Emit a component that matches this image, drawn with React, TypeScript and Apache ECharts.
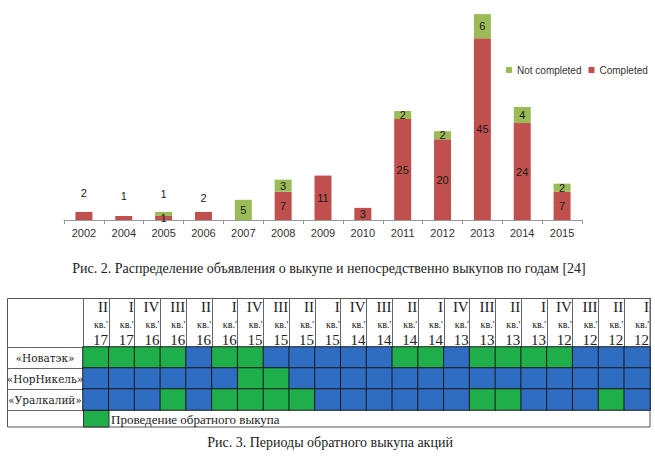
import React, { useEffect, useRef } from "react";
import * as echarts from "echarts";

const years = ["2002", "2004", "2005", "2006", "2007", "2008", "2009", "2010", "2011", "2012", "2013", "2014", "2015"];
const completed = [2, 1, 1, 2, 0, 7, 11, 3, 25, 20, 45, 24, 7];
const notCompleted = [0, 0, 1, 0, 5, 3, 0, 0, 2, 2, 6, 4, 2];

const quarters = ["II", "I", "IV", "III", "II", "I", "IV", "III", "II", "I", "IV", "III", "II", "I", "IV", "III", "II", "I", "IV", "III", "II", "I"];
const quarterYears = ["17", "17", "16", "16", "16", "16", "15", "15", "15", "15", "14", "14", "14", "14", "13", "13", "13", "13", "12", "12", "12", "12"];
const companies = ["«Новатэк»", "«НорНикель»", "«Уралкалий»"];
const novatek = [1, 1, 1, 1, 0, 1, 1, 0, 0, 0, 0, 0, 1, 1, 0, 1, 1, 1, 1, 0, 0, 0];
const nornickel = [0, 0, 0, 0, 0, 0, 1, 1, 0, 0, 0, 0, 0, 0, 0, 0, 0, 0, 0, 0, 0, 0];
const uralkali = [0, 0, 0, 1, 0, 1, 1, 1, 1, 0, 0, 0, 0, 0, 0, 1, 1, 0, 0, 0, 1, 0];

const caption1 = "Рис. 2. Распределение объявления о выкупе и непосредственно выкупов по годам [24]";
const caption2 = "Рис. 3. Периоды обратного выкупа акций";
const legendText = "Проведение обратного выкупа";

// label lifts (style only)
const completedLift: Record<string, number> = { "2002": -8, "2004": -9, "2006": -3 };
const notCompletedLift: Record<string, number> = { "2005": -7 };

const RED = "#C0504D";
const LGREEN = "#9BBB59";
const TGREEN = "#1FAF4A";
const TBLUE = "#2F6DC2";
const SERIF = "Liberation Serif";
const SANS = "Liberation Sans";

export default function App() {
  const ref = useRef<HTMLDivElement>(null);
  useEffect(() => {
    if (!ref.current) return;
    const chart = echarts.init(ref.current, null, { renderer: "svg" });
    const qCats = quarters.map((q, i) => `${q}|${quarterYears[i]}`);
    const rows = [novatek, nornickel, uralkali];
    const heat: number[][] = [];
    rows.forEach((r, ri) => r.forEach((v, ci) => heat.push([ci, ri, v])));

    const lbl = (p: any) => (p.value ? String(p.value) : "");
    const mk = (arr: number[], lift: Record<string, number>) =>
      arr.map((v, i) =>
        lift[years[i]] !== undefined
          ? { value: v, label: { position: "top", offset: [0, lift[years[i]]] } }
          : v
      );

    chart.setOption({
      animation: false,
      backgroundColor: "#fff",
      legend: {
        data: ["Not completed", "Completed"],
        left: 501,
        top: 60,
        itemWidth: 6,
        itemHeight: 6,
        itemGap: 7,
        icon: "rect",
        textStyle: { fontFamily: SANS, fontSize: 10, color: "#333" },
      },
      grid: [
        { left: 64, width: 518, top: 2, height: 218 },
        { left: 83, width: 567, top: 347, height: 63 },
      ],
      xAxis: [
        {
          type: "category",
          gridIndex: 0,
          data: years,
          axisLine: { lineStyle: { color: "#999" } },
          axisTick: { show: true, length: 4, interval: 0, lineStyle: { color: "#999" } },
          axisLabel: { fontFamily: SANS, fontSize: 11, color: "#333", margin: 7, interval: 0 },
        },
        {
          type: "category",
          gridIndex: 1,
          data: qCats,
          position: "top",
          axisLine: { show: true, lineStyle: { color: "#111" } },
          axisTick: { show: true, length: 49, interval: 0, lineStyle: { color: "#666" } },
          axisLabel: {
            interval: 0,
            margin: 0,
            width: 24,
            align: "center",
            formatter: (v: string) => {
              const [q, y] = v.split("|");
              return `{r|${q}}\n{k|кв.'}\n{y|${y}}`;
            },
            rich: {
              r: { fontFamily: SERIF, fontSize: 15, lineHeight: 18, color: "#222", align: "right", width: 24 },
              k: { fontFamily: SERIF, fontSize: 10, lineHeight: 17, color: "#222", align: "right", width: 24 },
              y: { fontFamily: SERIF, fontSize: 15, lineHeight: 14, color: "#222", align: "right", width: 24 },
            },
          },
        },
      ],
      yAxis: [
        { type: "value", gridIndex: 0, min: 0, max: 54, show: false },
        {
          type: "category",
          gridIndex: 1,
          data: companies,
          inverse: true,
          axisLine: { show: true, lineStyle: { color: "#111" } },
          axisTick: { show: true, length: 76, interval: 0, lineStyle: { color: "#666" } },
          axisLabel: { fontFamily: "DejaVu Serif", fontSize: 10.5, color: "#222", align: "center", margin: 38 },
        },
      ],
      visualMap: {
        type: "piecewise",
        show: false,
        seriesIndex: 2,
        dimension: 2,
        pieces: [
          { value: 0, color: TBLUE },
          { value: 1, color: TGREEN },
        ],
      },
      series: [
        {
          name: "Completed",
          type: "bar",
          stack: "s",
          xAxisIndex: 0,
          yAxisIndex: 0,
          barWidth: 17,
          itemStyle: { color: RED },
          label: { show: true, position: "inside", formatter: lbl, fontFamily: SANS, fontSize: 11, color: "#1a1a1a" },
          data: mk(completed, completedLift),
        },
        {
          name: "Not completed",
          type: "bar",
          stack: "s",
          xAxisIndex: 0,
          yAxisIndex: 0,
          barWidth: 17,
          itemStyle: { color: LGREEN },
          label: { show: true, position: "inside", formatter: lbl, fontFamily: SANS, fontSize: 11, color: "#1a1a1a" },
          data: mk(notCompleted, notCompletedLift),
        },
        {
          type: "heatmap",
          xAxisIndex: 1,
          yAxisIndex: 1,
          itemStyle: { borderColor: "#1a1a1a", borderWidth: 1 },
          data: heat,
        },
      ],
      graphic: [
        {
          type: "text",
          x: 329,
          y: 268,
          style: { text: caption1, font: `14px '${SERIF}'`, fill: "#222", align: "center", verticalAlign: "middle" },
        },
        {
          type: "text",
          x: 330,
          y: 442,
          style: { text: caption2, font: `14px '${SERIF}'`, fill: "#222", align: "center", verticalAlign: "middle" },
        },
        {
          type: "rect",
          shape: { x: 7.5, y: 298.5, width: 642.5, height: 128.5 },
          style: { fill: "none", stroke: "#555", lineWidth: 1 },
        },
        {
          type: "line",
          shape: { x1: 83.5, y1: 410, x2: 83.5, y2: 427 },
          style: { stroke: "#555", lineWidth: 1 },
        },
        {
          type: "rect",
          shape: { x: 83.5, y: 410.5, width: 25.5, height: 16.5 },
          style: { fill: TGREEN, stroke: "#333", lineWidth: 1 },
        },
        {
          type: "text",
          x: 111,
          y: 419,
          style: { text: legendText, font: `13px '${SERIF}'`, fill: "#222", verticalAlign: "middle" },
        },
      ],
    });
    return () => chart.dispose();
  }, []);
  return (
    <div
      ref={ref}
      style={{ position: "fixed", left: 0, top: 0, width: 655, height: 456, background: "#fff" }}
    />
  );
}
